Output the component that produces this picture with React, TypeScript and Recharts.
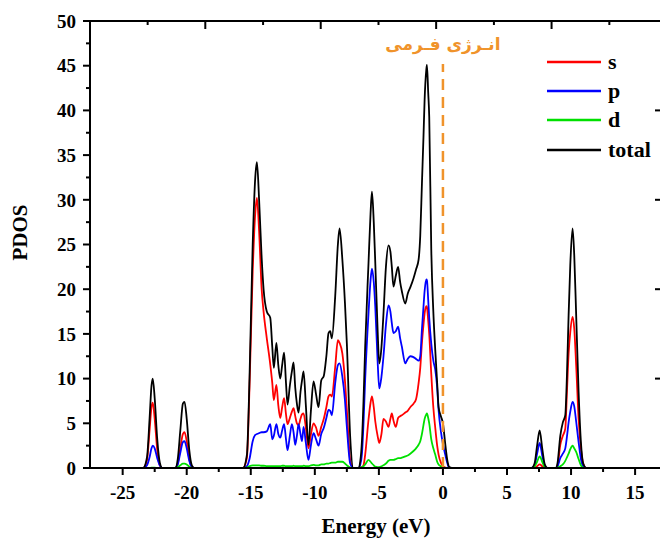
import React from 'react';
import { LineChart, Line, XAxis, YAxis, ReferenceLine, Legend } from 'recharts';

const SERIF = '"Liberation Serif", "Times New Roman", serif';

// energy grid (eV), one block per band region
const energy = [
  -27.55, -23.4, -23.1, -22.9, -22.75, -22.65, -22.5, -22.3, -22.1, -21.9,
  -20.9, -20.7, -20.5, -20.3, -20.17, -20.0, -19.8, -19.6, -19.4,
  -15.6, -15.3, -15.1, -14.85, -14.65, -14.52, -14.35, -14.15, -14.0, -13.75, -13.48, -13.32, -13.2, -13.0,
  -12.85, -12.7, -12.55, -12.4, -12.25, -12.13, -11.95, -11.79, -11.66, -11.53, -11.4, -11.27, -11.12, -11.0, -10.88, -10.7, -10.5,
  -10.3, -10.1, -9.9, -9.71, -9.5, -9.3, -9.1, -8.93, -8.8, -8.67, -8.41, -8.2, -8.07, -7.85, -7.65, -7.5, -7.24, -7.0,
  -6.6, -6.45, -6.32, -6.2, -6.07, -5.81, -5.65, -5.54, -5.4, -5.28, -5.1, -4.97,
  -4.8, -4.64, -4.45, -4.25, -4.1, -3.99, -3.86, -3.68, -3.5, -3.34, -3.21, -2.94, -2.75, -2.55, -2.3, -2.1,
  -1.9, -1.77, -1.64, -1.52, -1.43, -1.3, -1.25, -1.15, -1.07, -0.91, -0.75, -0.6, -0.45, -0.34, -0.16, 0, 0.18, 0.35, 0.5, 0.7,
  6.9, 7.15, 7.35, 7.55, 7.75, 7.95, 8.15,
  8.8, 8.95, 9.16, 9.36, 9.55, 9.68, 9.81, 9.94, 10.12, 10.25, 10.4, 10.59, 10.77, 10.95, 11.2, 17.1,
];

const totalDos = [
  0, 0, 1.2, 5.5, 9.2, 10.0, 7.8, 3.2, 0.6, 0,
  0, 1.0, 4.2, 7.2, 7.4, 5.5, 2.0, 0.3, 0,
  0, 1.5, 10, 25, 32.5, 34.2, 30, 23.5, 20, 17.5, 16.8, 13.5, 11.2, 14,
  11.5, 10, 11.5, 12.9, 9.5, 7.1, 9.2, 10.8, 11.8, 9.0, 7.2, 6.2, 8.5, 9.8, 10.8, 7.0, 2.6,
  6.5, 9.7, 8.2, 6.8, 9.8, 10.3, 12.5, 15.1, 15.3, 14.5, 19.2, 25.0, 26.8, 23.3, 18.5, 13.9, 3.5, 0,
  0, 0.8, 3.1, 7.5, 13.6, 22.9, 28.5, 30.9, 27.5, 22.9, 15.5, 11.7,
  13.5, 17.3, 22.5, 24.9, 24.2, 22.5, 20.3, 21.5, 22.5, 20.8, 19.8, 18.4, 19.5, 20.2, 21.2, 22.2,
  23.3, 26.0, 31.8, 37.0, 41.2, 44.5, 45.1, 42.0, 39.3, 24.4, 17.5, 13.2, 9.5, 6.8, 5.8, 5.0, 2.7, 0.8, 0.1, 0,
  0, 0.5, 2.5, 4.2, 2.2, 0.4, 0,
  0, 0.6, 3.6, 5.1, 5.9, 10.4, 17.1, 22.7, 26.8, 23.8, 17.1, 8.5, 2.9, 0.5, 0, 0,
];

const sDos = [
  0, 0, 0.9, 4.2, 6.8, 7.3, 5.5, 2.0, 0.3, 0,
  0, 0.5, 2.2, 3.8, 4.0, 3.0, 1.0, 0.1, 0,
  0, 1.2, 9, 22, 28.5, 30.2, 26.5, 20, 17.5, 14.5, 11.6, 9.5, 7.6, 9.3,
  7.0, 5.6, 6.8, 7.8, 6.0, 4.9, 5.6, 6.3, 6.7, 5.8, 5.0, 4.8, 5.5, 6.0, 6.1, 4.5, 2.2,
  3.8, 5.0, 4.5, 3.6, 4.6, 5.5, 6.8, 8.0, 8.2, 8.0, 11.3, 14.3, 14.0, 12.8, 9.8, 6.5, 0.9, 0,
  0, 0.05, 0.1, 0.3, 1.5, 5.4, 7.3, 8.0, 6.8, 5.2, 3.6, 2.8,
  3.8, 5.5, 5.2, 4.6, 5.5, 6.1, 5.3, 4.6, 5.6, 5.8, 5.9, 6.2, 6.4, 6.8, 7.2, 7.7,
  9.5, 11.2, 14.0, 16.0, 17.3, 18.1, 18.0, 16.5, 15.0, 10.5, 6.8, 4.5, 2.5, 1.5, 0.6, 0.2, 0.05, 0, 0, 0,
  0, 0.05, 0.2, 0.4, 0.2, 0, 0,
  0, 0.3, 2.6, 3.6, 4.4, 8.5, 12.8, 15.2, 16.9, 15.6, 11.5, 5.5, 2.2, 0.5, 0, 0,
];

const pDos = [
  0, 0, 0.3, 1.2, 2.2, 2.5, 2.2, 1.1, 0.3, 0,
  0, 0.4, 1.7, 2.9, 3.0, 2.2, 0.8, 0.1, 0,
  0, 0.2, 1.0, 3.0, 3.7, 3.8, 3.9, 4.0, 4.0, 4.1, 4.9, 3.2, 3.6, 4.9,
  3.8, 3.4, 4.2, 4.9, 3.2, 2.0, 3.6, 4.9, 4.0, 2.6, 3.6, 4.9, 3.8, 3.0, 4.6, 2.8, 0.9,
  2.6, 3.9, 3.2, 2.5, 3.8, 4.5, 5.6, 6.5, 6.4, 5.9, 9.5, 11.5, 11.7, 10.2, 7.6, 4.6, 0.5, 0,
  0, 0.4, 1.6, 5.0, 9.9, 17.3, 21, 22.3, 20.8, 18.0, 12.0, 8.9,
  10.2, 12.5, 16.0, 18.2, 17.5, 16.2, 15.1, 15.3, 15.8, 14.5, 13.6, 11.7, 12.2, 12.5, 12.4, 12.2,
  12.0, 12.5, 15.5, 18.0, 19.8, 21.1, 21.0, 18.8, 16.8, 13.9, 12.0, 11.0, 9.0, 6.5, 4.1, 2.7, 1.5, 0.5, 0, 0,
  0, 0.3, 1.6, 2.8, 1.4, 0.2, 0,
  0, 0.2, 1.1, 1.6, 2.2, 3.5, 5.1, 6.3, 7.4, 6.9, 5.2, 2.9, 1.0, 0.2, 0, 0,
];

const dDos = [
  0, 0, 0, 0, 0.05, 0.05, 0.05, 0, 0, 0,
  0, 0.1, 0.3, 0.5, 0.5, 0.4, 0.15, 0, 0,
  0, 0.05, 0.2, 0.3, 0.3, 0.3, 0.3, 0.25, 0.25, 0.2, 0.2, 0.2, 0.2, 0.2,
  0.2, 0.2, 0.25, 0.25, 0.2, 0.2, 0.2, 0.2, 0.25, 0.2, 0.2, 0.2, 0.2, 0.2, 0.25, 0.2, 0.2,
  0.3, 0.35, 0.3, 0.3, 0.4, 0.4, 0.5, 0.5, 0.55, 0.6, 0.6, 0.7, 0.7, 0.7, 0.5, 0.3, 0.05, 0,
  0, 0.05, 0.1, 0.2, 0.4, 0.9, 0.7, 0.5, 0.3, 0.15, 0.1, 0.1,
  0.2, 0.3, 0.5, 0.8, 0.9, 0.9, 0.9, 1.0, 1.1, 1.1, 1.15, 1.3, 1.4, 1.6, 1.9, 2.2,
  2.6, 3.0, 3.8, 4.8, 5.5, 6.0, 6.1, 5.6, 5.0, 3.2, 2.2, 1.5, 0.7, 0.4, 0.2, 0.1, 0, 0, 0, 0,
  0, 0.15, 0.7, 1.3, 0.7, 0.1, 0,
  0, 0.05, 0.2, 0.4, 0.8, 1.2, 1.6, 2.1, 2.5, 2.2, 1.8, 1.0, 0.3, 0.05, 0, 0,
];

const xDomain = [-27.55, 17.1];
const yDomain = [0, 50];
const xTicks = [-25, -20, -15, -10, -5, 0, 5, 10, 15];
const xMinorTicks = [-22.5, -17.5, -12.5, -7.5, -2.5, 2.5, 7.5, 12.5];
// the top frame has its own, unlabelled tick spacing (in eV)
const topMajorTicks = [-18.55, -9.54, -0.53, 8.48];
const topMinorTicks = [-23.05, -14.04, -5.03, 3.98, 12.99];
const yTicks = [0, 5, 10, 15, 20, 25, 30, 35, 40, 45, 50];
const yMinorTicks = [2.5, 7.5, 12.5, 17.5, 22.5, 27.5, 32.5, 37.5, 42.5, 47.5];
const rightTicks = [10, 20, 30, 40];

const fermiEnergy = 0;
const fermiTop = 45.2;
const fermiLabel = 'انـرژی فـرمی';
const ORANGE = '#f0932b';

const series = [
  { key: 's', color: '#ff0000' },
  { key: 'p', color: '#0000ff' },
  { key: 'd', color: '#00e000' },
  { key: 'total', color: '#000000' },
];

const rows = energy.map((e, i) => ({
  energy: e,
  s: sDos[i],
  p: pDos[i],
  d: dDos[i],
  total: totalDos[i],
}));

const bottomTicks = [...xTicks, ...xMinorTicks].sort((a, b) => a - b);
const topTicks = [...topMajorTicks, ...topMinorTicks].sort((a, b) => a - b);

const CHART_H = 538;
const MARGIN_TOP = 21;
const X_AXIS_H = 70;
const TICK_SIZE = 7;
const TICK_MARGIN = 11;
const TOP_TICK_SIZE = 8;
const TOP_TICK_MARGIN = 2;

const tickFont = { fill: '#000', fontSize: 19, fontWeight: 'bold', fontFamily: SERIF };
const lineStyle = { stroke: '#000', strokeWidth: 2 };
const noLabel = () => '';

// bottom ticks: long + label for majors, short for minors
function EnergyTick(props: any) {
  const { x, y, payload } = props;
  const v = payload.value;
  const axisY = y - TICK_SIZE - TICK_MARGIN;
  if (xMinorTicks.includes(v)) {
    return <line x1={x} x2={x} y1={axisY} y2={axisY + 4} stroke="#000" strokeWidth={2} />;
  }
  return (
    <g>
      <line x1={x} x2={x} y1={axisY} y2={axisY + TICK_SIZE} stroke="#000" strokeWidth={2} />
      <text x={x} y={y} dy="0.71em" textAnchor="middle" {...tickFont}>
        {v}
      </text>
    </g>
  );
}

// top frame ticks hang inward, majors longer than minors
function TopTick(props: any) {
  const { x, y, payload } = props;
  const axisY = y - TOP_TICK_SIZE - TOP_TICK_MARGIN;
  const len = topMajorTicks.includes(payload.value) ? 8 : 4;
  return <line x1={x} x2={x} y1={axisY} y2={axisY + len} stroke="#000" strokeWidth={2} />;
}

function renderLegend() {
  return (
    <div style={{ fontFamily: SERIF, fontWeight: 'bold', fontSize: 22, color: '#000' }}>
      {series.map((sr) => (
        <div key={sr.key} style={{ display: 'flex', alignItems: 'center', height: 29.3 }}>
          <svg width={56} height={4} style={{ display: 'block' }}>
            <line x1={0} y1={2} x2={54} y2={2} stroke={sr.color} strokeWidth={2.5} />
          </svg>
          <span style={{ marginLeft: 5, lineHeight: 1 }}>{sr.key}</span>
        </div>
      ))}
    </div>
  );
}

function PdosLabel(props: any) {
  const { viewBox } = props;
  const x = viewBox.x + 20;
  const y = viewBox.y + viewBox.height / 2 - 12;
  return (
    <text
      x={x}
      y={y}
      transform={`rotate(-90, ${x}, ${y})`}
      textAnchor="middle"
      dominantBaseline="central"
      fill="#000"
      fontSize={21}
      fontWeight="bold"
      fontFamily={SERIF}
    >
      PDOS
    </text>
  );
}

export default function App() {
  return (
    <div style={{ position: 'absolute', left: 0, top: 0, width: 660, height: CHART_H, overflow: 'hidden', background: '#fff' }}>
      <LineChart width={662} height={CHART_H} data={rows} margin={{ top: MARGIN_TOP, right: 0, bottom: 0, left: 0 }}>
        <XAxis
          xAxisId="e"
          type="number"
          dataKey="energy"
          domain={xDomain}
          allowDataOverflow
          ticks={bottomTicks}
          interval={0}
          height={X_AXIS_H}
          tickSize={TICK_SIZE}
          tickMargin={TICK_MARGIN}
          axisLine={lineStyle}
          tickLine={false}
          tick={<EnergyTick />}
          label={{ value: 'Energy (eV)', position: 'insideBottom', offset: 5, fill: '#000', fontSize: 21, fontWeight: 'bold', fontFamily: SERIF }}
        />
        {/* top frame */}
        <XAxis
          xAxisId="top"
          orientation="top"
          mirror
          type="number"
          dataKey="energy"
          domain={xDomain}
          allowDataOverflow
          ticks={topTicks}
          interval={0}
          tickSize={TOP_TICK_SIZE}
          tickMargin={TOP_TICK_MARGIN}
          tickLine={false}
          tick={<TopTick />}
          axisLine={lineStyle}
        />
        <YAxis
          yAxisId="pdosMinor"
          type="number"
          domain={yDomain}
          allowDataOverflow
          ticks={yMinorTicks}
          interval={0}
          mirror
          tickSize={-4}
          tickFormatter={noLabel}
          axisLine={false}
          tickLine={lineStyle}
        />
        <YAxis
          yAxisId="pdos"
          type="number"
          domain={yDomain}
          allowDataOverflow
          ticks={yTicks}
          interval={0}
          width={90}
          tickSize={7}
          tickMargin={7}
          axisLine={lineStyle}
          tickLine={lineStyle}
          tick={tickFont}
          label={<PdosLabel />}
        />
        <YAxis
          yAxisId="right"
          orientation="right"
          mirror
          type="number"
          domain={yDomain}
          allowDataOverflow
          ticks={rightTicks}
          interval={0}
          tickSize={7}
          tickFormatter={noLabel}
          axisLine={lineStyle}
          tickLine={lineStyle}
        />

        {/* transparent copy of the total curve so the top frame axis has a series */}
        <Line
          xAxisId="top"
          yAxisId="pdos"
          type="monotone"
          dataKey="total"
          stroke="#000"
          strokeOpacity={0}
          legendType="none"
          dot={false}
          activeDot={false}
          isAnimationActive={false}
        />

        {series.map((sr) => (
          <Line
            key={sr.key}
            xAxisId="e"
            yAxisId="pdos"
            type="monotone"
            dataKey={sr.key}
            name={sr.key}
            stroke={sr.color}
            strokeWidth={1.8}
            dot={false}
            activeDot={false}
            isAnimationActive={false}
          />
        ))}

        <ReferenceLine
          xAxisId="e"
          yAxisId="pdos"
          segment={[{ x: fermiEnergy, y: 0 }, { x: fermiEnergy, y: fermiTop }]}
          stroke={ORANGE}
          strokeWidth={2.5}
          strokeDasharray="11 7"
          label={{ value: fermiLabel, position: 'top', offset: 14, fill: ORANGE, fontSize: 17, fontWeight: 'bold', fontFamily: '"DejaVu Sans", sans-serif' }}
        />

        <Legend
          layout="vertical"
          align="center"
          verticalAlign="middle"
          wrapperStyle={{ left: 547, top: 47, width: 113 }}
          content={renderLegend}
        />
      </LineChart>
    </div>
  );
}
